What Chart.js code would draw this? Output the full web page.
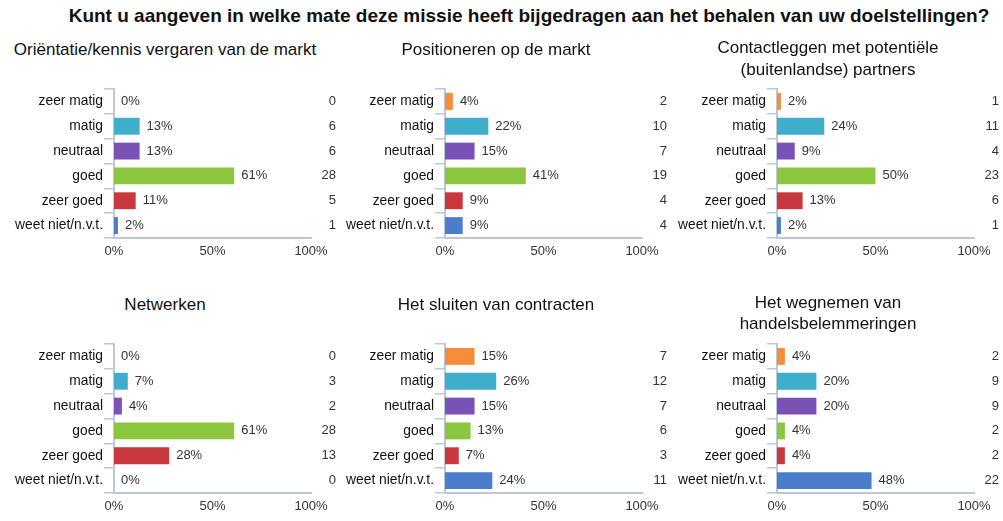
<!DOCTYPE html>
<html>
<head>
<meta charset="utf-8">
<script src="https://cdn.jsdelivr.net/npm/chart.js"></script>
<style>
  body { margin: 0; background: #fff; font-family: 'Liberation Sans', Arial, sans-serif; }
  #wrap { position: relative; width: 1003px; height: 521px; overflow: hidden; }
  .main-title { position: absolute; left: 0; width: 1058px; top: 5px; text-align: center; font-size: 19px; font-weight: bold; color: #111; }
  .ptitle { position: absolute; width: 330px; text-align: center; font-size: 17px; color: #111; }
  .panel { position: absolute; width: 340px; height: 235px; }
</style>
</head>
<body>
<div id="wrap">
  <div class="main-title">Kunt u aangeven in welke mate deze missie heeft bijgedragen aan het behalen van uw doelstellingen?</div>
</div>
<script>
const categories = ['zeer matig', 'matig', 'neutraal', 'goed', 'zeer goed', 'weet niet/n.v.t.'];
const barColors = ['#F58D3D', '#3FAECB', '#7A52B6', '#8CC63F', '#C9373F', '#4A7DCB'];
const xTicks = [0, 50, 100];

const titles = [
  ['Oriëntatie/kennis vergaren van de markt'],
  ['Positioneren op de markt'],
  ['Contactleggen met potentiële', '(buitenlandse) partners'],
  ['Netwerken'],
  ['Het sluiten van contracten'],
  ['Het wegnemen van', 'handelsbelemmeringen']
];

const pctOrientatie = [0, 13, 13, 61, 11, 2];
const cntOrientatie = [0, 6, 6, 28, 5, 1];
const pctPositioneren = [4, 22, 15, 41, 9, 9];
const cntPositioneren = [2, 10, 7, 19, 4, 4];
const pctContact = [2, 24, 9, 50, 13, 2];
const cntContact = [1, 11, 4, 23, 6, 1];
const pctNetwerken = [0, 7, 4, 61, 28, 0];
const cntNetwerken = [0, 3, 2, 28, 13, 0];
const pctContracten = [15, 26, 15, 13, 7, 24];
const cntContracten = [7, 12, 7, 6, 3, 11];
const pctHandel = [4, 20, 20, 4, 4, 48];
const cntHandel = [2, 9, 9, 2, 2, 22];

const percents = [pctOrientatie, pctPositioneren, pctContact, pctNetwerken, pctContracten, pctHandel];
const counts = [cntOrientatie, cntPositioneren, cntContact, cntNetwerken, cntContracten, cntHandel];

const FONT = "'Liberation Sans', Arial, sans-serif";
const axisColor = '#BCC7D8';

// percentage labels next to the bars, counts at the far right
const labelPlugin = {
  id: 'barLabels',
  afterDatasetsDraw(chart) {
    const ctx = chart.ctx;
    const meta = chart.getDatasetMeta(0);
    const cnt = chart.options.plugins.barLabels.counts;
    ctx.save();
    ctx.font = '13px ' + FONT;
    ctx.fillStyle = '#333';
    ctx.textBaseline = 'middle';
    meta.data.forEach((bar, i) => {
      ctx.textAlign = 'left';
      ctx.fillText(chart.data.datasets[0].data[i] + '%', bar.x + 7, bar.y);
      ctx.textAlign = 'right';
      ctx.fillText(String(cnt[i]), chart.chartArea.right + 25, bar.y);
    });
    ctx.restore();
  }
};

const wrap = document.getElementById('wrap');
const colLeft = [0, 331, 663];
const rowTop = [30, 285];
// [top for one line, top for two lines, line height of two lines]
const titlePos = [[39, 37, 22], [294, 292, 21]];

percents.forEach((pct, k) => {
  const col = k % 3, row = Math.floor(k / 3);
  const t = document.createElement('div');
  t.className = 'ptitle';
  t.style.left = colLeft[col] + 'px';
  const two = titles[k].length > 1;
  t.style.top = (two ? titlePos[row][1] : titlePos[row][0]) + 'px';
  t.style.lineHeight = (two ? titlePos[row][2] : 22) + 'px';
  t.innerHTML = titles[k].join('<br>');
  wrap.appendChild(t);

  const box = document.createElement('div');
  box.className = 'panel';
  box.style.left = colLeft[col] + 'px';
  box.style.top = rowTop[row] + 'px';
  const cv = document.createElement('canvas');
  box.appendChild(cv);
  wrap.appendChild(box);

  new Chart(cv, {
    type: 'bar',
    data: {
      labels: categories,
      datasets: [{
        data: pct,
        backgroundColor: barColors,
        barPercentage: 0.68,
        categoryPercentage: 1
      }]
    },
    options: {
      indexAxis: 'y',
      responsive: true,
      maintainAspectRatio: false,
      animation: false,
      layout: { padding: { left: 0, right: 29, top: 59, bottom: 5 } },
      plugins: {
        legend: { display: false },
        tooltip: { enabled: false },
        barLabels: { counts: counts[k] }
      },
      scales: {
        x: {
          min: 0,
          max: 100,
          afterBuildTicks: s => { s.ticks = xTicks.map(v => ({ value: v })); },
          ticks: { callback: v => v + '%', font: { size: 13, family: FONT }, color: '#333', padding: 6, maxRotation: 0 },
          grid: { display: false, drawTicks: false },
          border: { display: true, color: axisColor, width: 2 },
          afterFit: s => { s.height = 22; }
        },
        y: {
          ticks: { font: { size: 13.8, family: FONT }, color: '#111', padding: 1 },
          grid: { offset: true, drawOnChartArea: false, drawTicks: true, tickLength: 10, color: axisColor, lineWidth: 1.5 },
          border: { display: true, color: axisColor, width: 2 },
          afterFit: s => { s.width = 114; }
        }
      }
    },
    plugins: [labelPlugin]
  });
});
</script>
</body>
</html>
